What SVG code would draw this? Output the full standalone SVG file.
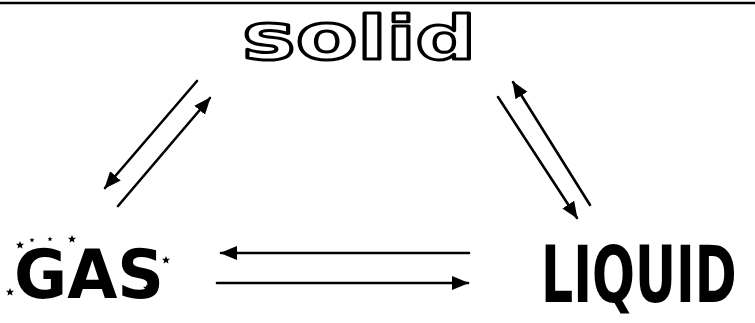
<svg xmlns="http://www.w3.org/2000/svg" xmlns:xlink="http://www.w3.org/1999/xlink" width="755" height="323" viewBox="0 0 755 323">
<style>
.arr{stroke:#000;stroke-width:2.6;fill:none;stroke-linecap:round;marker-end:url(#ah)}
.star{fill:#000}
.solid{font-family:"DejaVu Sans",sans-serif;font-weight:900;fill:#fff;stroke:#000;stroke-width:3;stroke-linejoin:round}
.gas{font-family:"DejaVu Sans",sans-serif;font-weight:bold;fill:#000}
.liq{font-family:"DejaVu Sans Condensed","DejaVu Sans",sans-serif;font-weight:bold;fill:#000}
</style>
<defs>
<marker id="ah" markerUnits="userSpaceOnUse" markerWidth="18" markerHeight="16" refX="16" refY="7" orient="auto">
<path d="M0,0 L17,7 L0,14 z" fill="#000"/>
</marker>
<polygon id="st" points="0,-4 1.1,-1.3 4,-1.2 1.8,0.7 2.5,3.6 0,2 -2.5,3.6 -1.8,0.7 -4,-1.2 -1.1,-1.3"/>
</defs>
<rect width="755" height="323" fill="#fff"/>
<line x1="0" y1="3" x2="755" y2="3" stroke="#000" stroke-width="2.5"/>
<g id="solid">
<text class="solid" x="242" y="59" textLength="234" lengthAdjust="spacingAndGlyphs"><tspan font-size="64">so</tspan><tspan font-size="60">lid</tspan></text>
</g>
<g id="gas">
<text class="gas" x="14" y="298" font-size="68" textLength="150" lengthAdjust="spacingAndGlyphs">GAS</text>
<g class="star">
<use xlink:href="#st" x="20" y="245"/>
<use xlink:href="#st" x="32" y="240" transform="translate(32 240) scale(0.6) translate(-32 -240)"/>
<use xlink:href="#st" x="50" y="239" transform="translate(50 239) scale(0.6) translate(-50 -239)"/>
<use xlink:href="#st" x="72" y="239"/>
<use xlink:href="#st" x="128" y="262"/>
<use xlink:href="#st" x="166" y="260"/>
<use xlink:href="#st" x="147" y="288"/>
<use xlink:href="#st" x="10" y="292"/>
</g>
</g>
<g id="liquid">
<text class="liq" transform="translate(541 302) scale(0.72 1)" x="0" y="0" font-size="78">LIQUID</text>
</g>
<g id="connectors">
<line class="arr" x1="197" y1="81" x2="105" y2="188"/>
<line class="arr" x1="118" y1="206" x2="210" y2="98"/>
<line class="arr" x1="498" y1="97" x2="577" y2="218"/>
<line class="arr" x1="590" y1="205" x2="513" y2="82"/>
<line class="arr" x1="469" y1="253" x2="221" y2="253"/>
<line class="arr" x1="217" y1="283" x2="468" y2="283"/>
</g>
</svg>
